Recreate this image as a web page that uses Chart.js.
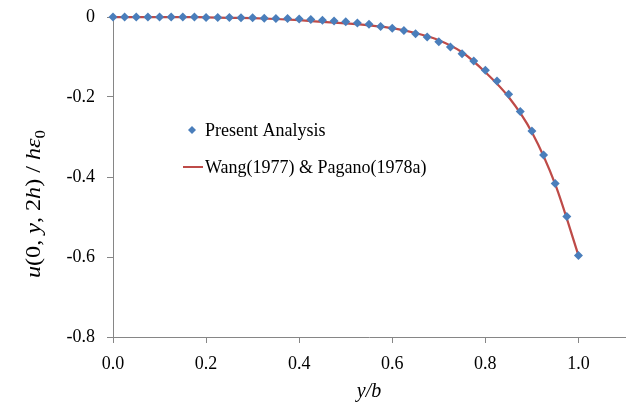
<!DOCTYPE html>
<html>
<head>
<meta charset="utf-8">
<script src="https://cdn.jsdelivr.net/npm/chart.js@4.4.1/dist/chart.umd.min.js"></script>
<style>
  html, body { margin: 0; padding: 0; background: #fff; }
  #wrap { width: 630px; height: 405px; }
</style>
</head>
<body>
<div id="wrap"><canvas id="myChart"></canvas></div>
<script>
// Present Analysis (markers)
const presentX = [0, 0.025, 0.05, 0.075, 0.1, 0.125, 0.15, 0.175, 0.2, 0.225, 0.25, 0.275, 0.3, 0.325,
    0.35, 0.375, 0.4, 0.425, 0.45, 0.475, 0.5, 0.525, 0.55, 0.575, 0.6, 0.625, 0.65, 0.675, 0.7,
    0.725, 0.75, 0.775, 0.8, 0.825, 0.85, 0.875, 0.9, 0.925, 0.95, 0.975, 1.0];
const presentY = [0, 0, 0, 0, 0, 0, 0, 0, -0.001, -0.001, -0.001, -0.002, -0.002, -0.003,
    -0.004, -0.004, -0.005, -0.006, -0.008, -0.010, -0.012, -0.015, -0.018, -0.024, -0.028, -0.034, -0.042, -0.050, -0.062,
    -0.075, -0.092, -0.110, -0.133, -0.160, -0.193, -0.236, -0.285, -0.345, -0.416, -0.499, -0.596];

// Wang(1977) & Pagano(1978a) (line)
const wangX = [0, 0.05, 0.1, 0.15, 0.2, 0.25, 0.3, 0.35, 0.4, 0.45, 0.5, 0.55, 0.6, 0.65, 0.7,
    0.75, 0.8, 0.85, 0.9, 0.95, 1.0];
const wangY = [0, 0, 0, 0, -0.001, -0.002, -0.003, -0.005, -0.008, -0.012, -0.016, -0.021, -0.028, -0.040, -0.058,
    -0.088, -0.138, -0.200, -0.288, -0.418, -0.596];

const xTicksMin = 0, xTicksMax = 1.1, xStep = 0.2;
const yTicksMin = -0.8, yTicksMax = 0, yStep = 0.2;

const seriesLabels = ['Present Analysis', 'Wang(1977) & Pagano(1978a)'];
const blue = '#4A7EBB';
const red = '#BE4B48';
const axisGrey = '#868686';
const serif = "'Liberation Serif', 'Times New Roman', serif";

function toPoints(xs, ys) {
    return xs.map((x, i) => ({ x, y: ys[i] }));
}

// legend drawn inside the plot area
const innerLegend = {
    id: 'innerLegend',
    afterDatasetsDraw(chart) {
        const { ctx, chartArea } = chart;
        const left = chartArea.left;
        const ds = chart.data.datasets;
        ctx.save();
        ctx.font = '18px ' + serif;
        ctx.textBaseline = 'middle';

        // marker entry
        let y = chartArea.top + 113;
        const mx = left + 79;
        ctx.fillStyle = ds[0].backgroundColor;
        ctx.beginPath();
        ctx.moveTo(mx, y - 4);
        ctx.lineTo(mx + 4, y);
        ctx.lineTo(mx, y + 4);
        ctx.lineTo(mx - 4, y);
        ctx.closePath();
        ctx.fill();
        ctx.fillStyle = '#000';
        ctx.fillText(ds[0].label, left + 92, y + 1);

        // line entry
        y = chartArea.top + 150;
        ctx.strokeStyle = ds[1].borderColor;
        ctx.lineWidth = 2;
        ctx.beginPath();
        ctx.moveTo(left + 70, y);
        ctx.lineTo(left + 90, y);
        ctx.stroke();
        ctx.fillText(ds[1].label, left + 92, y + 1);
        ctx.restore();
    }
};

// rotated y title with italic parts and subscript
const yTitle = {
    id: 'yTitle',
    afterDraw(chart) {
        const { ctx } = chart;
        const parts = [
            ['u', 'italic 20px ' + serif, 0],
            ['(0, ', '20px ' + serif, 0],
            ['y', 'italic 20px ' + serif, 0],
            [', 2', '20px ' + serif, 0],
            ['h', 'italic 20px ' + serif, 0],
            [') / ', '20px ' + serif, 0],
            ['hε', 'italic 20px ' + serif, 0],
            ['0', '14px ' + serif, 6]
        ];
        ctx.save();
        let total = 0;
        for (const p of parts) { ctx.font = p[1]; total += ctx.measureText(p[0]).width; }
        const stretch = 148 / total;
        ctx.translate(35, 204);
        ctx.rotate(-Math.PI / 2);
        ctx.scale(stretch, 1);
        ctx.fillStyle = '#000';
        ctx.textBaseline = 'middle';
        let x = -total / 2;
        for (const p of parts) {
            ctx.font = p[1];
            ctx.fillText(p[0], x, p[2]);
            x += ctx.measureText(p[0]).width;
        }
        ctx.restore();
    }
};

const ctx = document.getElementById('myChart');
new Chart(ctx, {
    type: 'line',
    data: {
        datasets: [
            {
                label: seriesLabels[0],
                data: toPoints(presentX, presentY),
                showLine: false,
                pointStyle: 'rectRot',
                pointRadius: 4.5,
                backgroundColor: blue,
                borderColor: blue,
                pointBorderWidth: 0,
                clip: false
            },
            {
                label: seriesLabels[1],
                data: toPoints(wangX, wangY),
                borderColor: red,
                backgroundColor: red,
                borderWidth: 2.25,
                pointRadius: 0,
                cubicInterpolationMode: 'monotone',
                clip: false
            }
        ]
    },
    plugins: [innerLegend, yTitle],
    options: {
        responsive: true,
        maintainAspectRatio: false,
        animation: false,
        layout: { padding: { top: 17, right: 5, left: 0, bottom: 0 } },
        plugins: {
            legend: { display: false },
            tooltip: { enabled: false }
        },
        scales: {
            x: {
                type: 'linear',
                min: xTicksMin,
                max: xTicksMax,
                afterFit: (scale) => {
                    scale.height = 68;
                    scale.paddingLeft = 0;
                    scale.paddingRight = 0;
                },
                ticks: {
                    stepSize: xStep,
                    includeBounds: false,
                    padding: 10,
                    color: '#000',
                    font: { family: serif, size: 18 },
                    maxRotation: 0,
                    callback: (v) => v.toFixed(1)
                },
                grid: { drawOnChartArea: false, drawTicks: true, tickLength: 6, color: axisGrey },
                border: { display: true, color: axisGrey, width: 1 },
                title: {
                    display: true,
                    text: 'y/b',
                    color: '#000',
                    font: { family: serif, size: 20, style: 'italic' },
                    padding: { top: 0, bottom: 1 }
                }
            },
            y: {
                type: 'linear',
                min: yTicksMin,
                max: yTicksMax,
                afterFit: (scale) => {
                    scale.width = 113;
                    scale.paddingTop = 0;
                    scale.paddingBottom = 0;
                },
                ticks: {
                    stepSize: yStep,
                    padding: 12,
                    color: '#000',
                    font: { family: serif, size: 18 },
                    callback: (v) => Math.abs(v) < 1e-9 ? '0' : v.toFixed(1)
                },
                grid: { drawOnChartArea: false, drawTicks: true, tickLength: 6, color: axisGrey },
                border: { display: true, color: axisGrey, width: 1 }
            }
        }
    }
});
</script>
</body>
</html>
